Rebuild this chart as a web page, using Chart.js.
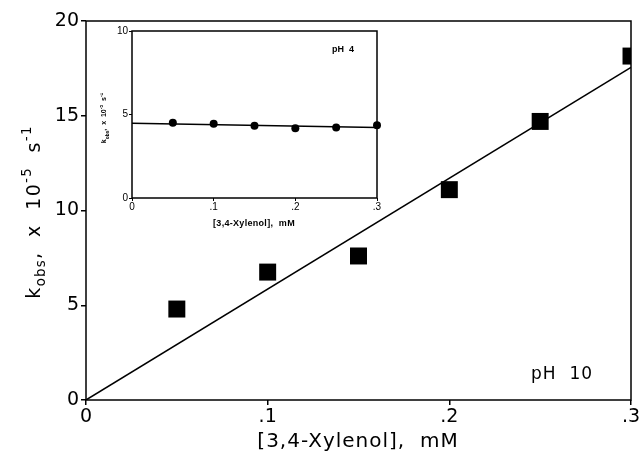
<!DOCTYPE html>
<html>
<head>
<meta charset="utf-8">
<script src="https://cdn.jsdelivr.net/npm/chart.js@4"></script>
<style>
  html, body { margin: 0; padding: 0; background: #fff; }
  #wrap { position: relative; width: 643px; height: 459px; }
  #main { position: absolute; left: 0; top: 0; }
  #inset { position: absolute; left: 100px; top: 10px; }
</style>
</head>
<body>
<div id="wrap">
  <canvas id="main" width="643" height="459"></canvas>
  <canvas id="inset" width="290" height="225"></canvas>
</div>
<script>
  // pH 10 series (main plot)
  const xMain = [0.05, 0.10, 0.15, 0.20, 0.25, 0.30];
  const kMain = [4.8, 6.75, 7.6, 11.1, 14.7, 18.15];
  const fitX = [0, 0.3];
  const fitMain = [0, 17.55];
  const mainXTicks = [0, 0.1, 0.2, 0.3];
  const mainYTicks = [0, 5, 10, 15, 20];

  // pH 4 series (inset)
  const xInset = [0.05, 0.10, 0.15, 0.20, 0.25, 0.30];
  const kInset = [4.5, 4.44, 4.32, 4.17, 4.22, 4.36];
  const fitInset = [4.47, 4.22];
  const insetYTicks = [0, 5, 10];

  const FONT = "'DejaVu Sans', 'Liberation Sans', sans-serif";
  const SMALL = "'Liberation Sans', Arial, sans-serif";
  const pts = (xs, ys) => xs.map((x, i) => ({ x, y: ys[i] }));
  const fmtX = (v) => (v === 0 ? "0" : String(Math.round(v * 10) / 10).replace(/^0/, ""));

  // frame round the chart area
  const framePlugin = {
    id: "frame",
    afterDraw(chart, args, opts) {
      const { ctx, chartArea: a } = chart;
      ctx.save();
      ctx.strokeStyle = "#000";
      ctx.lineWidth = opts.lw || 1.5;
      ctx.strokeRect(a.left, a.top, a.right - a.left, a.bottom - a.top);
      ctx.restore();
    },
  };

  // text made of pieces, some as sub/superscripts
  function drawRich(ctx, it) {
    const { parts, size, weight, family, spacing } = it;
    const fam = family || FONT;
    ctx.save();
    ctx.translate(it.x, it.y);
    if (it.rotate) ctx.rotate(-Math.PI / 2);
    ctx.fillStyle = "#000";
    ctx.textBaseline = "alphabetic";
    ctx.letterSpacing = (spacing || 0) + "px";
    const fontFor = (p) => `${weight || "normal"} ${p.s ? size * 0.7 : size}px ${fam}`;
    let total = 0;
    const widths = parts.map((p) => {
      ctx.font = fontFor(p);
      const w = ctx.measureText(p.t).width;
      total += w;
      return w;
    });
    let x = -total / 2;
    parts.forEach((p, i) => {
      ctx.font = fontFor(p);
      const dy = p.s === "sub" ? size * 0.3 : p.s === "sup" ? -size * 0.45 : 0;
      ctx.fillText(p.t, x, size * 0.35 + dy);
      x += widths[i];
    });
    ctx.restore();
  }

  const textPlugin = {
    id: "richText",
    afterDraw(chart, args, opts) {
      (opts.items || []).forEach((it) => drawRich(chart.ctx, it));
    },
  };

  const yTitleParts = [
    { t: "k" }, { t: "obs", s: "sub" }, { t: ",  x  10" }, { t: "-5", s: "sup" },
    { t: "  s" }, { t: "-1", s: "sup" },
  ];

  new Chart(document.getElementById("main"), {
    type: "scatter",
    data: {
      datasets: [
        {
          data: pts(xMain, kMain),
          pointStyle: "rect",
          pointRadius: 12,
          backgroundColor: "#000",
          borderColor: "#000",
          borderWidth: 0,
          clip: 0,
        },
        {
          type: "line",
          data: pts(fitX, fitMain),
          borderColor: "#000",
          borderWidth: 1.5,
          pointRadius: 0,
          fill: false,
        },
      ],
    },
    options: {
      responsive: false,
      animation: false,
      events: [],
      layout: { padding: { top: 21, right: 12, left: 0, bottom: 0 } },
      plugins: {
        legend: { display: false },
        tooltip: { enabled: false },
        frame: { lw: 1.5 },
        richText: {
          items: [
            { parts: yTitleParts, x: 33, y: 212, size: 19, rotate: true, spacing: 1.3 },
            { parts: [{ t: "[3,4-Xylenol],  mM" }], x: 358, y: 440, size: 20, spacing: 1 },
            { parts: [{ t: "pH  10" }], x: 562, y: 373, size: 17, spacing: 1 },
          ],
        },
      },
      scales: {
        x: {
          type: "linear",
          min: 0, max: 0.3,
          afterBuildTicks: (s) => { s.ticks = mainXTicks.map((v) => ({ value: v })); },
          afterFit: (s) => { s.height = 59; },
          grid: { drawOnChartArea: false, tickLength: 5, color: "#000", lineWidth: 1.5 },
          border: { display: false },
          ticks: { color: "#000", font: { family: FONT, size: 19 }, padding: 1, callback: fmtX, maxRotation: 0 },
        },
        y: {
          type: "linear",
          min: 0, max: 20,
          afterBuildTicks: (s) => { s.ticks = mainYTicks.map((v) => ({ value: v })); },
          afterFit: (s) => { s.width = 86; },
          grid: { drawOnChartArea: false, tickLength: 5, color: "#000", lineWidth: 1.5 },
          border: { display: false },
          ticks: { color: "#000", font: { family: FONT, size: 19 }, padding: 2 },
        },
      },
    },
    plugins: [framePlugin, textPlugin],
  });

  new Chart(document.getElementById("inset"), {
    type: "scatter",
    data: {
      datasets: [
        {
          data: pts(xInset, kInset),
          pointStyle: "circle",
          pointRadius: 4,
          backgroundColor: "#000",
          borderColor: "#000",
          borderWidth: 0,
          clip: false,
        },
        {
          type: "line",
          data: pts(fitX, fitInset),
          borderColor: "#000",
          borderWidth: 1.5,
          pointRadius: 0,
          fill: false,
        },
      ],
    },
    options: {
      responsive: false,
      animation: false,
      events: [],
      layout: { padding: { top: 21, right: 13, left: 0, bottom: 0 } },
      plugins: {
        legend: { display: false },
        tooltip: { enabled: false },
        frame: { lw: 1.5 },
        richText: {
          items: [
            { parts: yTitleParts, x: 4, y: 108, size: 7, rotate: true, weight: "bold", family: SMALL },
            { parts: [{ t: "[3,4-Xylenol],  mM" }], x: 154, y: 213, size: 9, weight: "bold", family: SMALL, spacing: 0.3 },
            { parts: [{ t: "pH  4" }], x: 243, y: 39, size: 9, weight: "bold", family: SMALL },
          ],
        },
      },
      scales: {
        x: {
          type: "linear",
          min: 0, max: 0.3,
          afterBuildTicks: (s) => { s.ticks = mainXTicks.map((v) => ({ value: v })); },
          afterFit: (s) => { s.height = 37; },
          grid: { drawOnChartArea: false, tickLength: 3, color: "#000", lineWidth: 1 },
          border: { display: false },
          ticks: { color: "#000", font: { family: SMALL, size: 10 }, padding: 0, callback: fmtX, maxRotation: 0 },
        },
        y: {
          type: "linear",
          min: 0, max: 10,
          afterBuildTicks: (s) => { s.ticks = insetYTicks.map((v) => ({ value: v })); },
          afterFit: (s) => { s.width = 32; },
          grid: { drawOnChartArea: false, tickLength: 3, color: "#000", lineWidth: 1 },
          border: { display: false },
          ticks: { color: "#000", font: { family: SMALL, size: 10 }, padding: 1 },
        },
      },
    },
    plugins: [framePlugin, textPlugin],
  });
</script>
</body>
</html>
